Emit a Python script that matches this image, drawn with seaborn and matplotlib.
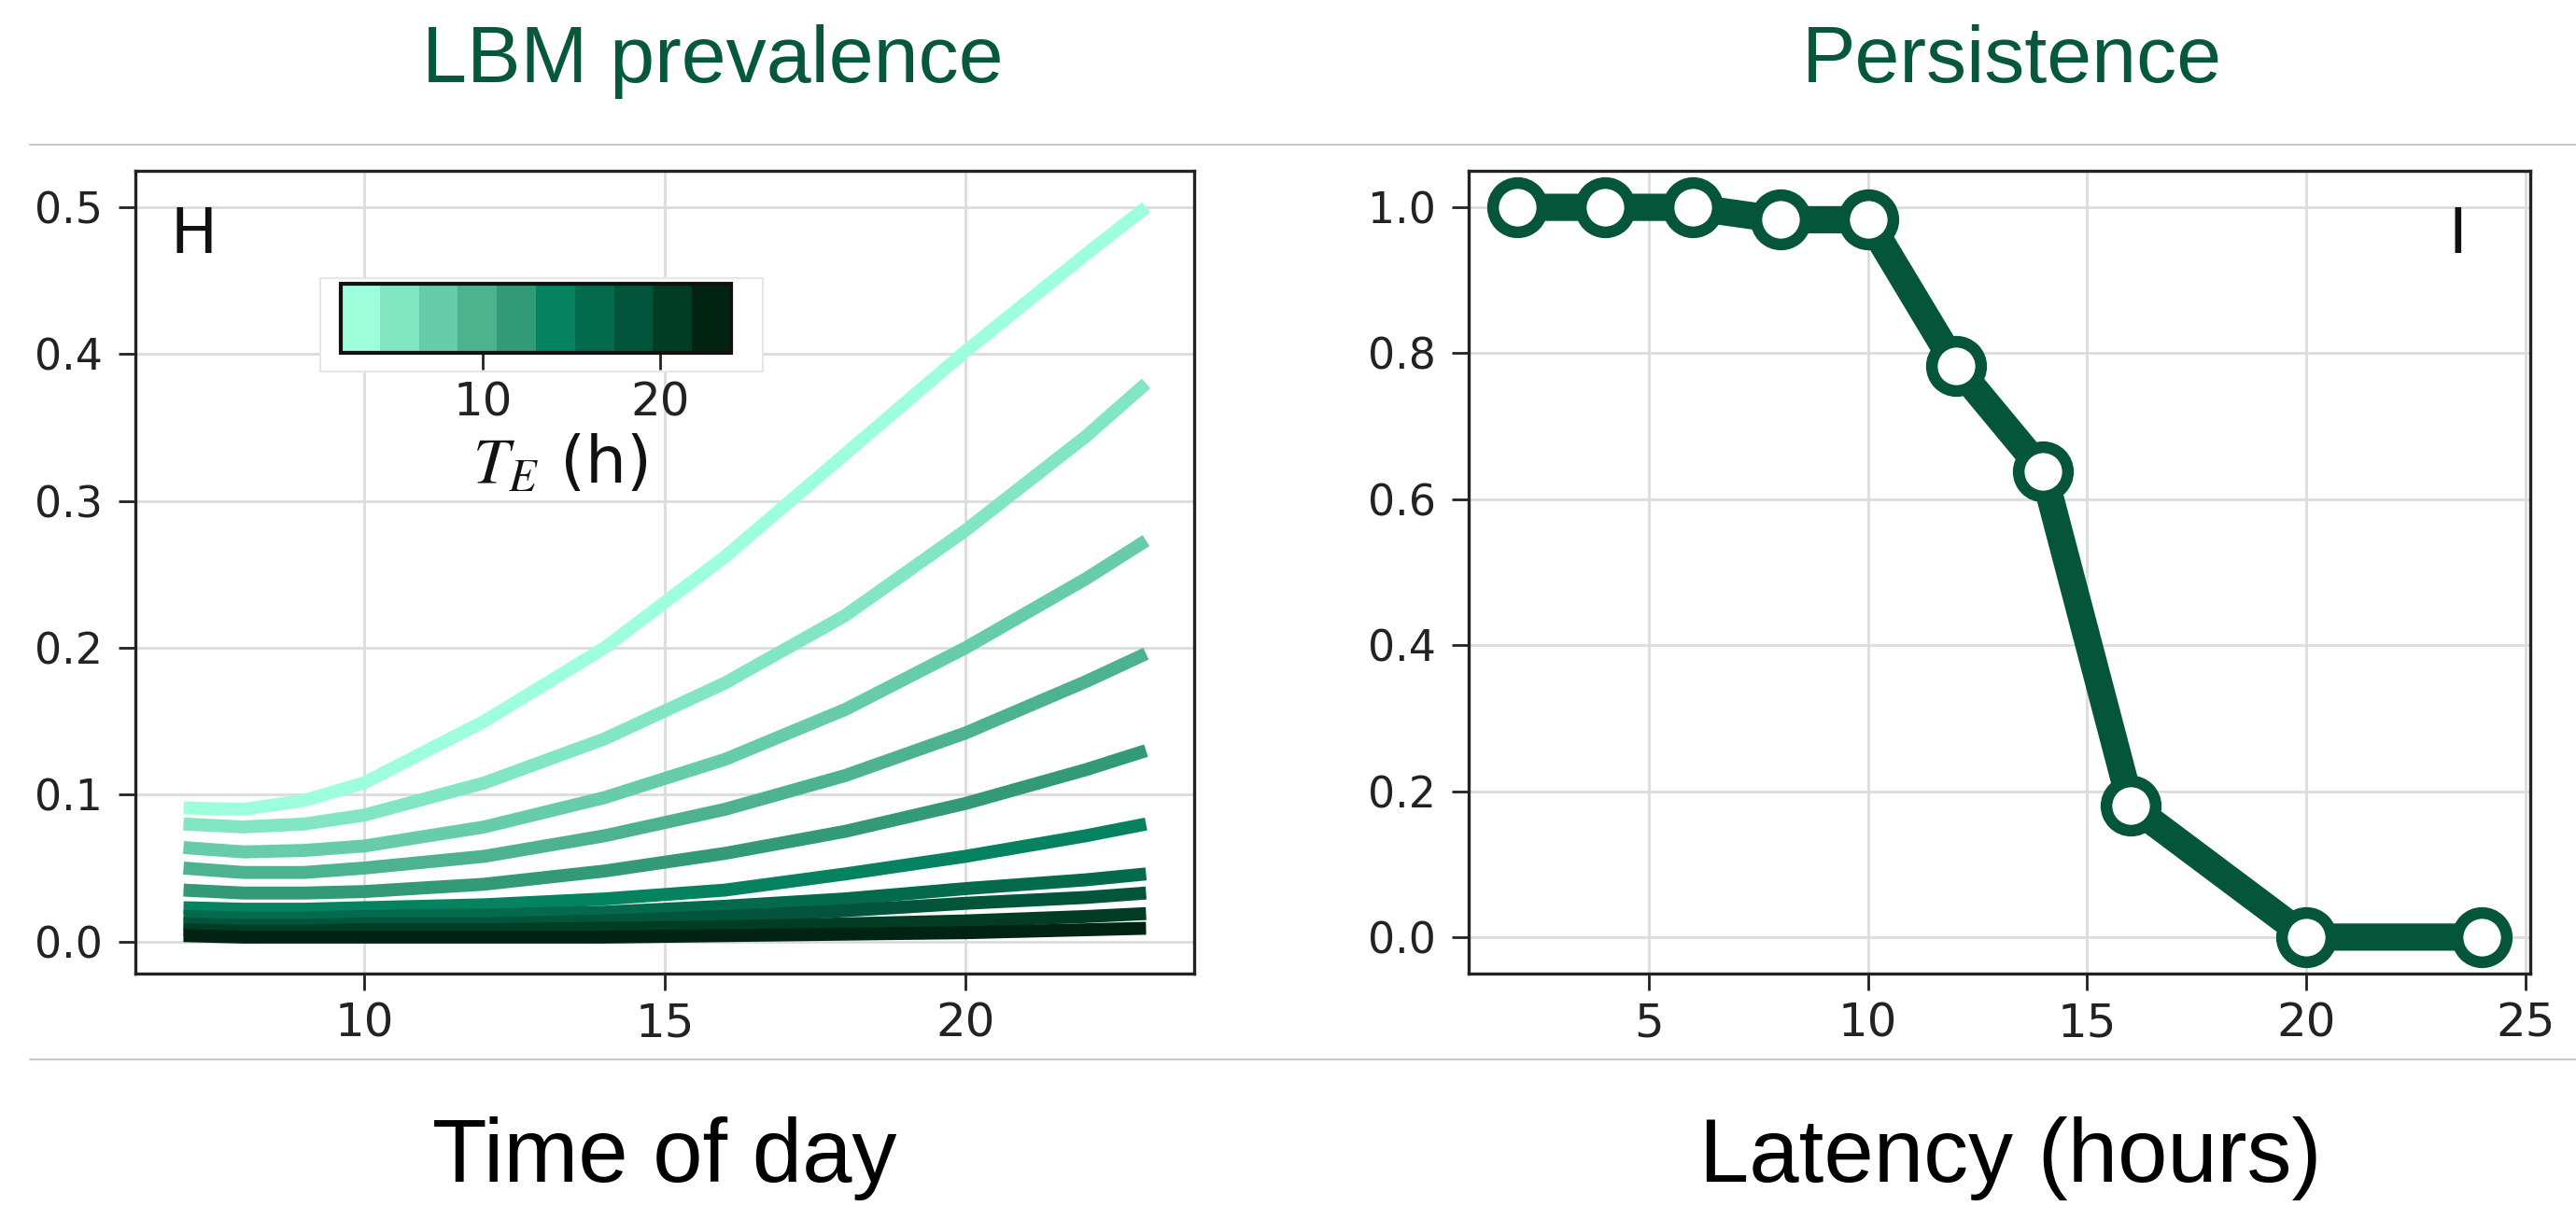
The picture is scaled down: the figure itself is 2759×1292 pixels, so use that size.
import numpy as np
import pandas as pd
import matplotlib
matplotlib.use("Agg")
import matplotlib.pyplot as plt
import matplotlib.colors as mcolors
from matplotlib.cm import ScalarMappable
from matplotlib.patches import Rectangle
from matplotlib.lines import Line2D
import seaborn as sns

# ---- data ----
hours = [7, 8, 9, 10, 12, 14, 16, 18, 20, 22, 23]
prev_te01 = [0.091, 0.090, 0.096, 0.108, 0.150, 0.200, 0.262, 0.332, 0.402, 0.468, 0.500]
prev_te02 = [0.080, 0.078, 0.080, 0.086, 0.108, 0.138, 0.176, 0.222, 0.280, 0.344, 0.380]
prev_te03 = [0.064, 0.061, 0.062, 0.065, 0.078, 0.098, 0.124, 0.158, 0.200, 0.247, 0.273]
prev_te04 = [0.050, 0.047, 0.047, 0.050, 0.058, 0.072, 0.090, 0.113, 0.142, 0.177, 0.196]
prev_te05 = [0.035, 0.033, 0.033, 0.034, 0.039, 0.048, 0.060, 0.075, 0.094, 0.117, 0.130]
prev_te06 = [0.023, 0.022, 0.022, 0.023, 0.025, 0.029, 0.035, 0.046, 0.058, 0.072, 0.080]
prev_te07 = [0.017, 0.016, 0.016, 0.017, 0.018, 0.020, 0.024, 0.029, 0.036, 0.042, 0.046]
prev_te08 = [0.012, 0.011, 0.011, 0.012, 0.012, 0.014, 0.017, 0.021, 0.026, 0.030, 0.033]
prev_te09 = [0.008, 0.007, 0.007, 0.008, 0.008, 0.009, 0.010, 0.012, 0.014, 0.017, 0.019]
prev_te10 = [0.004, 0.003, 0.003, 0.003, 0.003, 0.003, 0.004, 0.005, 0.006, 0.008, 0.009]
curves = [prev_te01, prev_te02, prev_te03, prev_te04, prev_te05,
          prev_te06, prev_te07, prev_te08, prev_te09, prev_te10]
te_colors = ["#9effdc", "#82e6c3", "#66cca9", "#4db38f", "#339a77",
             "#05825f", "#036a4c", "#02553a", "#013c25", "#002312"]
te_min, te_max = 2, 24
cbar_ticks = [10, 20]

latency = [2, 4, 6, 8, 10, 12, 14, 16, 20, 24]
persistence = [1.0, 1.0, 1.0, 0.983, 0.983, 0.783, 0.638, 0.18, 0.0, 0.0]

green = "#04553a"
title_green = "#06583b"

sns.set_style("whitegrid")
plt.rcParams["font.family"] = ["DejaVu Sans"]
plt.rcParams["mathtext.fontset"] = "stix"

W, H = 2759, 1292
fig = plt.figure(figsize=(W / 100, H / 100), dpi=100)

ax1 = fig.add_axes([145 / W, 1 - 1043 / H, (1279 - 145) / W, 860 / H])
ax2 = fig.add_axes([1573 / W, 1 - 1043 / H, (2710 - 1573) / W, 860 / H])

# long table for the left panel
rows = []
for i, vals in enumerate(curves):
    for h, v in zip(hours, vals):
        rows.append({"hour": h, "prev": v, "te": f"te{i + 1}"})
df = pd.DataFrame(rows)
order = [f"te{i + 1}" for i in range(len(curves))]

sns.lineplot(data=df, x="hour", y="prev", hue="te", hue_order=order,
             palette=te_colors, lw=10, legend=False, ax=ax1,
             solid_capstyle="butt")

sns.lineplot(x=latency, y=persistence, ax=ax2, color=green, lw=21,
             marker="o", markersize=38, markerfacecolor="white",
             markeredgecolor=green, markeredgewidth=9)

for ax in (ax1, ax2):
    ax.set_xlabel("")
    ax.set_ylabel("")
    ax.grid(True, color="#dcdcdc", lw=2)
    for s in ax.spines.values():
        s.set_color("#222222")
        s.set_linewidth(2.4)
    ax.tick_params(axis="x", labelsize=36, length=13, width=2, pad=8,
                   bottom=True, colors="#222222", labelcolor="#222222")
    ax.tick_params(axis="y", labelsize=33, length=13, width=2, pad=12,
                   left=True, colors="#222222", labelcolor="#222222")

ax1.set_xticks([10, 15, 20])
ax1.set_yticks([0.0, 0.1, 0.2, 0.3, 0.4, 0.5])
ax1.set_yticklabels(["0.0", "0.1", "0.2", "0.3", "0.4", "0.5"])
ax2.set_xticks([5, 10, 15, 20, 25])
ax2.set_yticks([0.0, 0.2, 0.4, 0.6, 0.8, 1.0])
ax2.set_yticklabels(["0.0", "0.2", "0.4", "0.6", "0.8", "1.0"])

ax1.text(0.0335, 0.958, "H", transform=ax1.transAxes, fontsize=48,
         ha="left", va="top", color="#111111")
ax2.text(0.932, 0.958, "I", transform=ax2.transAxes, fontsize=48,
         ha="center", va="top", color="#111111")

# white box behind the inset colorbar
ax1.add_patch(Rectangle((0.1746, 0.75), 0.418, 0.1163, transform=ax1.transAxes,
                        facecolor="white", edgecolor="#e6e6e6", lw=1.5, zorder=5))
cax = fig.add_axes([365 / W, 1 - 378 / H, 418 / W, 74 / H])
sm = ScalarMappable(norm=mcolors.Normalize(te_min, te_max),
                    cmap=mcolors.ListedColormap(te_colors))
cb = fig.colorbar(sm, cax=cax, orientation="horizontal", ticks=cbar_ticks)
cb.outline.set_linewidth(3)
cb.outline.set_edgecolor("#111111")
cax.tick_params(labelsize=36, length=13, width=2, pad=8, colors="#222222")
ax1.text(0.401, 0.634, r"$T_E$ (h)", transform=ax1.transAxes, fontsize=50,
         ha="center", va="center", color="#111111")

# panel headers and footers
fig.text(763 / W, 1 - 88 / H, "LBM prevalence", ha="center", va="baseline",
         fontsize=62, color=title_green, family="Liberation Sans")
fig.text(2155 / W, 1 - 88 / H, "Persistence", ha="center", va="baseline",
         fontsize=62, color=title_green, family="Liberation Sans")
fig.text(712 / W, 1 - 1266 / H, "Time of day", ha="center", va="baseline",
         fontsize=69, color="black", family="Liberation Sans")
fig.text(2153 / W, 1 - 1266 / H, "Latency (hours)", ha="center", va="baseline",
         fontsize=69, color="black", family="Liberation Sans")

fig.add_artist(Line2D([32 / W, 1], [1 - 155 / H, 1 - 155 / H], color="#c8c8c8", lw=1.5))
fig.add_artist(Line2D([32 / W, 1], [1 - 1135 / H, 1 - 1135 / H], color="#c8c8c8", lw=1.5))

fig.savefig("out.png", dpi=100, facecolor="white")
